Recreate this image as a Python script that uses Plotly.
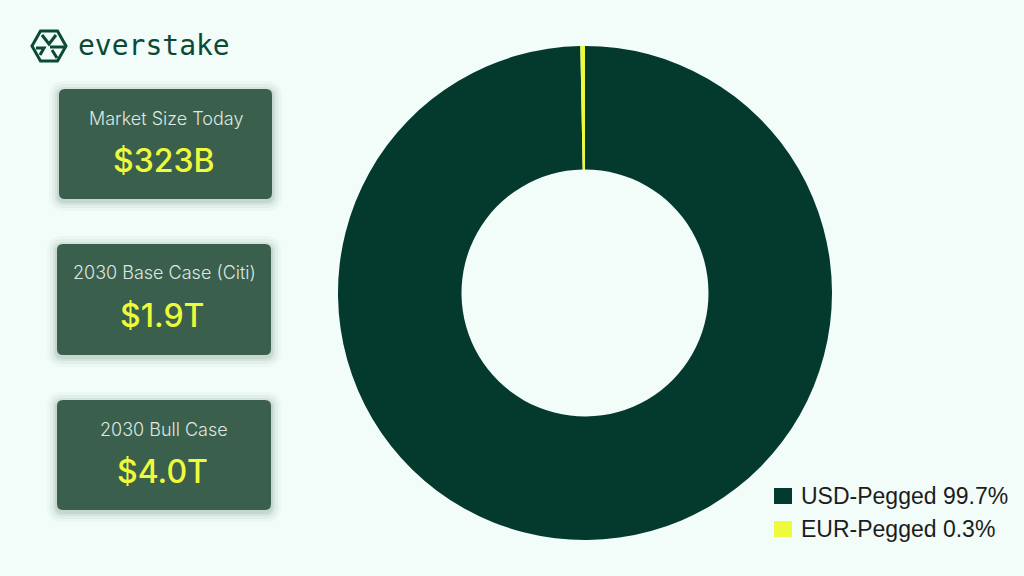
import plotly.graph_objects as go

# ---- data ----
segments = ["USD-Pegged", "EUR-Pegged"]
shares = [99.7, 0.3]
seg_colors = ["#033a2d", "#eefb3c"]

card_titles = ["Market Size Today", "2030 Base Case (Citi)", "2030 Bull Case"]
card_values = ["$323B", "$1.9T", "$4.0T"]

brand = "everstake"

W, H = 1024, 576
BG = "#f2fcf9"


def px(x):
    return x / W


def py(y):
    return 1 - y / H


def rrect(x0, y0, x1, y1, r):
    X0, X1 = px(x0), px(x1)
    Y0, Y1 = py(y0), py(y1)
    rx, ry = r / W, r / H
    return (f"M {X0+rx},{Y0} L {X1-rx},{Y0} Q {X1},{Y0} {X1},{Y0-ry} "
            f"L {X1},{Y1+ry} Q {X1},{Y1} {X1-rx},{Y1} L {X0+rx},{Y1} "
            f"Q {X0},{Y1} {X0},{Y1+ry} L {X0},{Y0-ry} Q {X0},{Y0} {X0+rx},{Y0} Z")


fig = go.Figure()

fig.add_trace(go.Pie(
    labels=segments,
    values=shares,
    marker=dict(colors=seg_colors, line=dict(width=0)),
    hole=0.5,
    sort=False,
    direction="clockwise",
    rotation=0,
    textinfo="none",
    showlegend=False,
    domain=dict(x=[px(338), px(832)], y=[py(540), py(46)]),
))

shapes = []
annotations = []

# cards
cards_box = [(59, 89, 272, 199), (57, 244, 271, 355), (57, 400, 271, 510)]
for (x0, y0, x1, y1), title, val in zip(cards_box, card_titles, card_values):
    for g, a in [(10, 0.03), (7, 0.05), (4, 0.07), (2, 0.08)]:
        shapes.append(dict(type="path", xref="paper", yref="paper",
                           path=rrect(x0 - g, y0 - g + 2, x1 + g, y1 + g + 2, 6 + g),
                           fillcolor=f"rgba(40,80,65,{a})", line=dict(width=0), layer="below"))
    shapes.append(dict(type="path", xref="paper", yref="paper",
                       path=rrect(x0, y0, x1, y1, 6),
                       fillcolor="#3a5f4c", line=dict(width=0), layer="below"))
    cx = (x0 + x1) / 2
    annotations.append(dict(x=px(cx), y=py(y0 + 29), xref="paper", yref="paper",
                            text=title, showarrow=False, xanchor="center", yanchor="middle",
                            font=dict(family="Inter", size=18, color="#dfe7e2", weight=300)))
    annotations.append(dict(x=px(cx - 2), y=py(y0 + 71), xref="paper", yref="paper",
                            text=val, showarrow=False, xanchor="center", yanchor="middle",
                            font=dict(family="Inter", size=32, color="#eefb3c", weight=500)))

# manual legend built from data
leg_rows = [496, 529]
for lab, v, c, yy in zip(segments, shares, seg_colors, leg_rows):
    shapes.append(dict(type="rect", xref="paper", yref="paper",
                       x0=px(774), x1=px(792), y0=py(yy - 8), y1=py(yy + 8),
                       fillcolor=c, line=dict(width=0)))
    annotations.append(dict(x=px(799), y=py(yy), xref="paper", yref="paper",
                            text=f"{lab} {v}%", showarrow=False, xanchor="left", yanchor="middle",
                            font=dict(family="Liberation Sans", size=23, color="#1c1c1c")))

# logo icon (hexagon with inner strokes)
cx, cy, R = 49, 46, 17
hexpts = [(cx - R, cy), (cx - R / 2, cy - 15), (cx + R / 2, cy - 15), (cx + R, cy),
          (cx + R / 2, cy + 15), (cx - R / 2, cy + 15)]
path = "M " + " L ".join(f"{px(a)},{py(b)}" for a, b in hexpts) + " Z"
shapes.append(dict(type="path", xref="paper", yref="paper", path=path,
                   line=dict(color="#0b4a36", width=3), fillcolor="rgba(0,0,0,0)"))
inner = [
    [(cx - 7, cy - 11), (cx, cy - 2), (cx + 7, cy - 11)],
    [(cx + 1, cy + 1), (cx + 15, cy + 1)],
    [(cx - 13, cy + 2), (cx - 5, cy + 2), (cx - 9, cy + 9)],
    [(cx + 3, cy + 4), (cx + 8, cy + 12)],
]
for seg in inner:
    p = "M " + " L ".join(f"{px(a)},{py(b)}" for a, b in seg)
    shapes.append(dict(type="path", xref="paper", yref="paper", path=p,
                       line=dict(color="#0b4a36", width=3)))

annotations.append(dict(x=px(76), y=py(45), xref="paper", yref="paper",
                        text=brand, showarrow=False, xanchor="left", yanchor="middle",
                        font=dict(family="DejaVu Sans Mono", size=28, color="#0b4a36")))

fig.update_layout(
    width=W, height=H,
    margin=dict(l=0, r=0, t=0, b=0),
    paper_bgcolor=BG, plot_bgcolor=BG,
    shapes=shapes, annotations=annotations,
    showlegend=False,
)

fig.write_html("out.html", config={"displayModeBar": False},
               post_script="document.body.style.margin='0';document.body.style.overflow='hidden';")
